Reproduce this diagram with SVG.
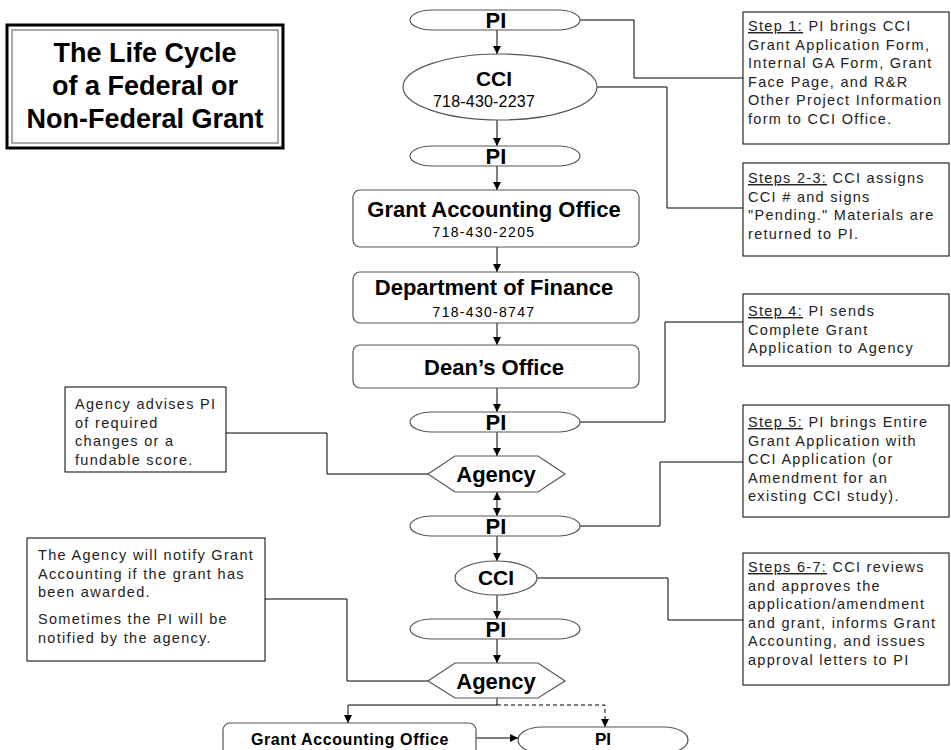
<svg xmlns="http://www.w3.org/2000/svg" width="951" height="750" viewBox="0 0 951 750">
<style>
.shape{fill:#fff;stroke:#555;stroke-width:1.2}
.box{fill:#fff;stroke:#000;stroke-width:1}
.b{font-family:"Liberation Sans",Arial,sans-serif;font-weight:bold;fill:#000;text-anchor:middle}
.ph{font-family:"Liberation Sans",Arial,sans-serif;font-size:14px;letter-spacing:1.3px;fill:#000;text-anchor:middle}
.n{font-family:"Liberation Sans",Arial,sans-serif;font-size:14.5px;letter-spacing:1.3px;fill:#222}
.u{text-decoration:underline}
.c{fill:none;stroke:#000;stroke-width:1}
</style>
<defs>
<marker id="ah" markerWidth="8" markerHeight="8" refX="8" refY="4" orient="auto-start-reverse" markerUnits="userSpaceOnUse">
<path d="M0,0 L8,4 L0,8 z" fill="#000"/>
</marker>
</defs>
<rect width="951" height="750" fill="#fff"/>

<g id="title">
<rect x="7" y="25" width="276" height="123" fill="#fff" stroke="#000" stroke-width="3"/>
<rect x="12" y="30" width="266" height="113" fill="none" stroke="#555" stroke-width="1"/>
<text class="b" x="145" y="62" font-size="27">The Life Cycle</text>
<text class="b" x="145" y="95" font-size="27">of a Federal or</text>
<text class="b" x="145" y="128" font-size="27">Non-Federal Grant</text>
</g>

<g id="connectors">
<path class="c" d="M497,30 V54" marker-end="url(#ah)"/>
<path class="c" d="M497,120 V146" marker-end="url(#ah)"/>
<path class="c" d="M497,166 V190" marker-end="url(#ah)"/>
<path class="c" d="M497,247 V272" marker-end="url(#ah)"/>
<path class="c" d="M497,323 V345" marker-end="url(#ah)"/>
<path class="c" d="M497,388 V412" marker-end="url(#ah)"/>
<path class="c" d="M497,432 V456" marker-end="url(#ah)"/>
<path class="c" d="M497,492 V516" marker-start="url(#ah)" marker-end="url(#ah)"/>
<path class="c" d="M497,536 V561" marker-end="url(#ah)"/>
<path class="c" d="M497,595 V619" marker-end="url(#ah)"/>
<path class="c" d="M497,639 V663" marker-end="url(#ah)"/>
<path class="c" d="M497,698 V705 H348 V723" marker-end="url(#ah)"/>
<path class="c" d="M497,705 H605 V727" stroke-dasharray="4,3" marker-end="url(#ah)"/>
<path class="c" d="M476,738 H518" marker-end="url(#ah)"/>
<path class="c" d="M580,20 H634 V78 H743"/>
<path class="c" d="M597,87 H667 V208 H743"/>
<path class="c" d="M580,422 H665 V322 H743"/>
<path class="c" d="M580,526 H660 V462 H743"/>
<path class="c" d="M537,578 H668 V620 H743"/>
<path class="c" d="M226,433 H327 V474 H428"/>
<path class="c" d="M265,599 H347 V681 H428"/>
</g>

<g id="pi1">
<rect class="shape" x="410" y="10" width="170" height="20" rx="22" ry="10"/>
<text class="b" x="496" y="28" font-size="22">PI</text>
</g>
<g id="cci1">
<ellipse class="shape" cx="500" cy="87" rx="97" ry="33"/>
<text class="b" x="494" y="86" font-size="21">CCI</text>
<text class="ph" x="484" y="107" style="font-size:16px;letter-spacing:0.2px">718-430-2237</text>
</g>
<g id="pi2">
<rect class="shape" x="410" y="146" width="170" height="20" rx="22" ry="10"/>
<text class="b" x="496" y="164" font-size="22">PI</text>
</g>
<g id="gao1">
<rect class="shape" x="353" y="190" width="286" height="57" rx="7"/>
<text class="b" x="494" y="217" font-size="22">Grant Accounting Office</text>
<text class="ph" x="484" y="237">718-430-2205</text>
</g>
<g id="dof">
<rect class="shape" x="353" y="272" width="286" height="51" rx="7"/>
<text class="b" x="494" y="295" font-size="22">Department of Finance</text>
<text class="ph" x="484" y="317">718-430-8747</text>
</g>
<g id="dean">
<rect class="shape" x="353" y="345" width="286" height="43" rx="7"/>
<text class="b" x="494" y="375" font-size="22">Dean’s Office</text>
</g>
<g id="pi3">
<rect class="shape" x="410" y="412" width="170" height="20" rx="22" ry="10"/>
<text class="b" x="496" y="430" font-size="22">PI</text>
</g>
<g id="agency1">
<polygon class="shape" points="428,474 455,456 538,456 565,474 538,492 455,492"/>
<text class="b" x="496" y="482" font-size="22">Agency</text>
</g>
<g id="pi4">
<rect class="shape" x="410" y="516" width="170" height="20" rx="22" ry="10"/>
<text class="b" x="496" y="534" font-size="22">PI</text>
</g>
<g id="cci2">
<ellipse class="shape" cx="496" cy="578" rx="41" ry="17"/>
<text class="b" x="496" y="585" font-size="21">CCI</text>
</g>
<g id="pi5">
<rect class="shape" x="410" y="619" width="170" height="20" rx="22" ry="10"/>
<text class="b" x="496" y="637" font-size="22">PI</text>
</g>
<g id="agency2">
<polygon class="shape" points="428,681 455,663 538,663 565,681 538,698 455,698"/>
<text class="b" x="496" y="689" font-size="22">Agency</text>
</g>
<g id="gao2">
<rect class="shape" x="223" y="723" width="253" height="40" rx="7"/>
<text class="b" x="350" y="745" font-size="16" letter-spacing="0.6">Grant Accounting Office</text>
</g>
<g id="pi6">
<rect class="shape" x="518" y="727" width="170" height="26" rx="24" ry="13"/>
<text class="b" x="603" y="745" font-size="17">PI</text>
</g>

<g id="step1">
<rect class="box" x="743" y="12" width="206" height="132"/>
<text class="n" x="748" y="31"><tspan class="u">Step 1:</tspan> PI brings CCI</text>
<text class="n" x="748" y="49.5">Grant Application Form,</text>
<text class="n" x="748" y="68">Internal GA Form, Grant</text>
<text class="n" x="748" y="86.5">Face Page, and R&amp;R</text>
<text class="n" x="748" y="105">Other Project Information</text>
<text class="n" x="748" y="123.5">form to CCI Office.</text>
</g>
<g id="step23">
<rect class="box" x="743" y="163" width="206" height="93"/>
<text class="n" x="748" y="183"><tspan class="u">Steps 2-3:</tspan> CCI assigns</text>
<text class="n" x="748" y="201.5">CCI # and signs</text>
<text class="n" x="748" y="220">"Pending."  Materials are</text>
<text class="n" x="748" y="238.5">returned to PI.</text>
</g>
<g id="step4">
<rect class="box" x="743" y="294" width="206" height="72"/>
<text class="n" x="748" y="316"><tspan class="u">Step 4:</tspan> PI sends</text>
<text class="n" x="748" y="334.5">Complete Grant</text>
<text class="n" x="748" y="353">Application to Agency</text>
</g>
<g id="step5">
<rect class="box" x="743" y="405" width="206" height="112"/>
<text class="n" x="748" y="427"><tspan class="u">Step 5:</tspan> PI brings Entire</text>
<text class="n" x="748" y="445.5">Grant Application with</text>
<text class="n" x="748" y="464">CCI Application (or</text>
<text class="n" x="748" y="482.5">Amendment for an</text>
<text class="n" x="748" y="501">existing CCI study).</text>
</g>
<g id="step67">
<rect class="box" x="743" y="553" width="206" height="132"/>
<text class="n" x="748" y="572"><tspan class="u">Steps 6-7:</tspan> CCI reviews</text>
<text class="n" x="748" y="590.5">and approves the</text>
<text class="n" x="748" y="609">application/amendment</text>
<text class="n" x="748" y="627.5">and grant, informs Grant</text>
<text class="n" x="748" y="646">Accounting, and issues</text>
<text class="n" x="748" y="664.5">approval letters to PI</text>
</g>
<g id="note1">
<rect class="box" x="65" y="387" width="161" height="85"/>
<text class="n" x="75" y="409">Agency advises PI</text>
<text class="n" x="75" y="427.5">of required</text>
<text class="n" x="75" y="446">changes or a</text>
<text class="n" x="75" y="464.5">fundable score.</text>
</g>
<g id="note2">
<rect class="box" x="27" y="538" width="238" height="123"/>
<text class="n" x="38" y="560">The Agency will notify Grant</text>
<text class="n" x="38" y="578.5">Accounting if the grant has</text>
<text class="n" x="38" y="597">been awarded.</text>
<text class="n" x="38" y="624">Sometimes the PI will be</text>
<text class="n" x="38" y="642.5">notified by the agency.</text>
</g>
</svg>
